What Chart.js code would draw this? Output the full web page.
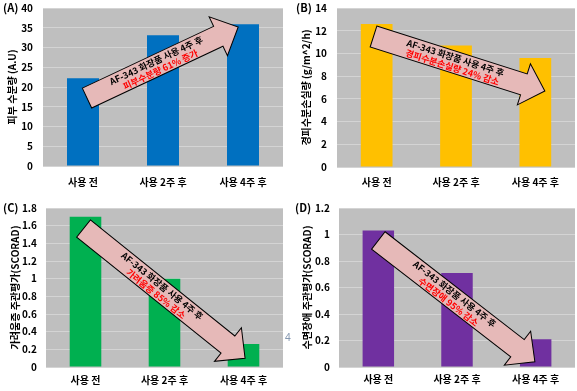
<!DOCTYPE html>
<html>
<head>
<meta charset="utf-8">
<script src="https://cdn.jsdelivr.net/npm/chart.js@4"></script>
<style>
    body { margin: 0; background: #fff; }
    #wrap { position: relative; width: 577px; height: 391px; overflow: hidden; }
    #wrap canvas { position: absolute; }
    #stray { position: absolute; left: 285px; top: 330px; font: 10px "Noto Sans", sans-serif; color: #8497B0; }
</style>
</head>
<body>
<div id="wrap">
    <canvas id="chartA" width="288" height="195" style="left:0;top:0"></canvas>
    <canvas id="chartB" width="289" height="195" style="left:288px;top:0"></canvas>
    <canvas id="chartC" width="288" height="196" style="left:0;top:195px"></canvas>
    <canvas id="chartD" width="289" height="196" style="left:288px;top:195px"></canvas>
    <span id="stray">4</span>
</div>
<script>
const categories = ['사용 전', '사용 2주 후', '사용 4주 후'];

const moistureValues = [22.2, 33.1, 35.9];   // 피부 수분량 (A.U)
const tewlValues = [12.6, 10.7, 9.6];        // 경피수분손실량
const itchValues = [1.70, 1.00, 0.26];       // 가려움증 주관평가
const sleepValues = [1.03, 0.71, 0.21];      // 수면장애 주관평가

const yTitles = ['피부 수분량 (A.U)', '경피수분손실량 (g/m^2/h)', '가려움증 주관평가(SCORAD)', '수면장애 주관평가(SCORAD)'];
const panelNames = ['(A)', '(B)', '(C)', '(D)'];
const arrowTitle = 'AF-343 화장품 사용 4주 후';
const arrowResults = ['피부수분량 61% 증가', '경피수분손실량 24% 감소', '가려움증 85% 감소', '수면장애 95% 감소'];

const FONT = '"Noto Sans CJK KR", "Noto Sans", sans-serif';

const panelBackground = {
    id: 'panelBackground',
    beforeDraw(chart, args, opts) {
        const { ctx, chartArea: a } = chart;
        ctx.save();
        ctx.fillStyle = opts.color;
        ctx.fillRect(a.left, a.top, a.width, a.height);
        ctx.restore();
    },
    afterDraw(chart, args, opts) {
        const ctx = chart.ctx;
        ctx.save();
        ctx.font = 'bold 11px ' + FONT;
        ctx.fillStyle = '#000';
        ctx.textBaseline = 'middle';
        ctx.fillText(opts.label, opts.labelX, opts.labelY);
        ctx.restore();
    }
};

// block arrow given in data coordinates (category index, value)
const blockArrow = {
    id: 'blockArrow',
    afterDatasetsDraw(chart, args, opts) {
        const ctx = chart.ctx;
        const xs = chart.scales.x, ys = chart.scales.y;
        const x0 = xs.getPixelForValue(opts.from[0]), y0 = ys.getPixelForValue(opts.from[1]);
        const x1 = xs.getPixelForValue(opts.to[0]), y1 = ys.getPixelForValue(opts.to[1]);
        const len = Math.hypot(x1 - x0, y1 - y0);
        const s = opts.shaft / 2, h = opts.head / 2, hl = opts.headLength;

        ctx.save();
        ctx.translate(x0, y0);
        ctx.rotate(Math.atan2(y1 - y0, x1 - x0));
        ctx.beginPath();
        ctx.moveTo(0, -s);
        ctx.lineTo(len - hl, -s);
        ctx.lineTo(len - hl, -h);
        ctx.lineTo(len, 0);
        ctx.lineTo(len - hl, h);
        ctx.lineTo(len - hl, s);
        ctx.lineTo(0, s);
        ctx.closePath();
        ctx.fillStyle = '#E6B9B8';
        ctx.fill();
        ctx.lineWidth = 1;
        ctx.strokeStyle = '#000';
        ctx.stroke();

        ctx.font = 'bold 9px ' + FONT;
        ctx.textAlign = 'center';
        ctx.textBaseline = 'middle';
        const tx = len * 0.47;
        ctx.fillStyle = '#000';
        ctx.fillText(arrowTitle, tx, -4.5);
        ctx.fillStyle = '#FF0000';
        ctx.fillText(opts.result, tx, 5.5);
        ctx.restore();
    }
};

function makeChart(id, p) {
    const ctx = document.getElementById(id).getContext('2d');
    return new Chart(ctx, {
        type: 'bar',
        data: {
            labels: categories,
            datasets: [{
                data: p.values,
                backgroundColor: p.color,
                borderWidth: 0,
                categoryPercentage: 1,
                barPercentage: 0.4
            }]
        },
        options: {
            responsive: false,
            animation: false,
            layout: {
                padding: { left: 0, top: p.top, right: p.right, bottom: 0 }
            },
            plugins: {
                legend: { display: false },
                tooltip: { enabled: false },
                panelBackground: { color: '#BFBFBF', label: p.label, labelX: p.labelX, labelY: p.labelY },
                blockArrow: p.arrow
            },
            scales: {
                x: {
                    grid: { display: false, drawTicks: false },
                    border: { display: false },
                    ticks: {
                        color: '#000',
                        padding: p.xPad,
                        maxRotation: 0,
                        autoSkip: false,
                        font: { family: FONT, size: 10, weight: 'bold' }
                    },
                    afterFit: scale => { scale.height = p.xHeight; }
                },
                y: {
                    min: 0,
                    max: p.max,
                    grid: { color: '#D4D4D4', lineWidth: 1, drawTicks: false },
                    border: { display: false },
                    ticks: {
                        stepSize: p.step,
                        color: '#000',
                        padding: p.yPad,
                        callback: v => String(Math.round(v * 10) / 10),
                        font: { family: FONT, size: 10, weight: 'bold' }
                    },
                    title: {
                        display: true,
                        text: p.title,
                        color: '#000',
                        padding: { top: p.titlePad, bottom: 0 },
                        font: { family: FONT, size: 10, weight: 'bold' }
                    },
                    afterFit: scale => {
                        scale.width = p.yWidth;
                        scale.paddingTop = 0;
                        scale.paddingBottom = 0;
                    }
                }
            }
        },
        plugins: [panelBackground, blockArrow]
    });
}

document.addEventListener('DOMContentLoaded', function() {
    makeChart('chartA', {
        values: moistureValues, color: '#0070C0', max: 40, step: 5, title: yTitles[0],
        label: panelNames[0], labelX: 3, labelY: 8,
        top: 8, right: 5, yWidth: 43, xHeight: 29, xPad: 10, yPad: 10, titlePad: 6,
        arrow: { from: [0.05, 17.2], to: [1.94, 35.2], shaft: 22, head: 43, headLength: 22, result: arrowResults[0] }
    });
    makeChart('chartB', {
        values: tewlValues, color: '#FFC000', max: 14, step: 2, title: yTitles[1],
        label: panelNames[1], labelX: 8, labelY: 8,
        top: 8, right: 2, yWidth: 49, xHeight: 28, xPad: 9, yPad: 10, titlePad: 12,
        arrow: { from: [-0.04, 11.49], to: [2.12, 6.69], shaft: 22, head: 43, headLength: 22, result: arrowResults[1] }
    });
    makeChart('chartC', {
        values: itchValues, color: '#00B050', max: 1.8, step: 0.2, title: yTitles[2],
        label: panelNames[2], labelX: 3, labelY: 13,
        top: 13, right: 5, yWidth: 46, xHeight: 24, xPad: 7, yPad: 9, titlePad: 9,
        arrow: { from: [-0.025, 1.568], to: [2.02, 0.098], shaft: 22, head: 43, headLength: 22, result: arrowResults[2] }
    });
    makeChart('chartD', {
        values: sleepValues, color: '#7030A0', max: 1.2, step: 0.2, title: yTitles[3],
        label: panelNames[3], labelX: 7, labelY: 13,
        top: 13, right: 2, yWidth: 51, xHeight: 24, xPad: 6, yPad: 9, titlePad: 13,
        arrow: { from: [0, 0.955], to: [1.99, 0.04], shaft: 22, head: 43, headLength: 22, result: arrowResults[3] }
    });
});
</script>
</body>
</html>
